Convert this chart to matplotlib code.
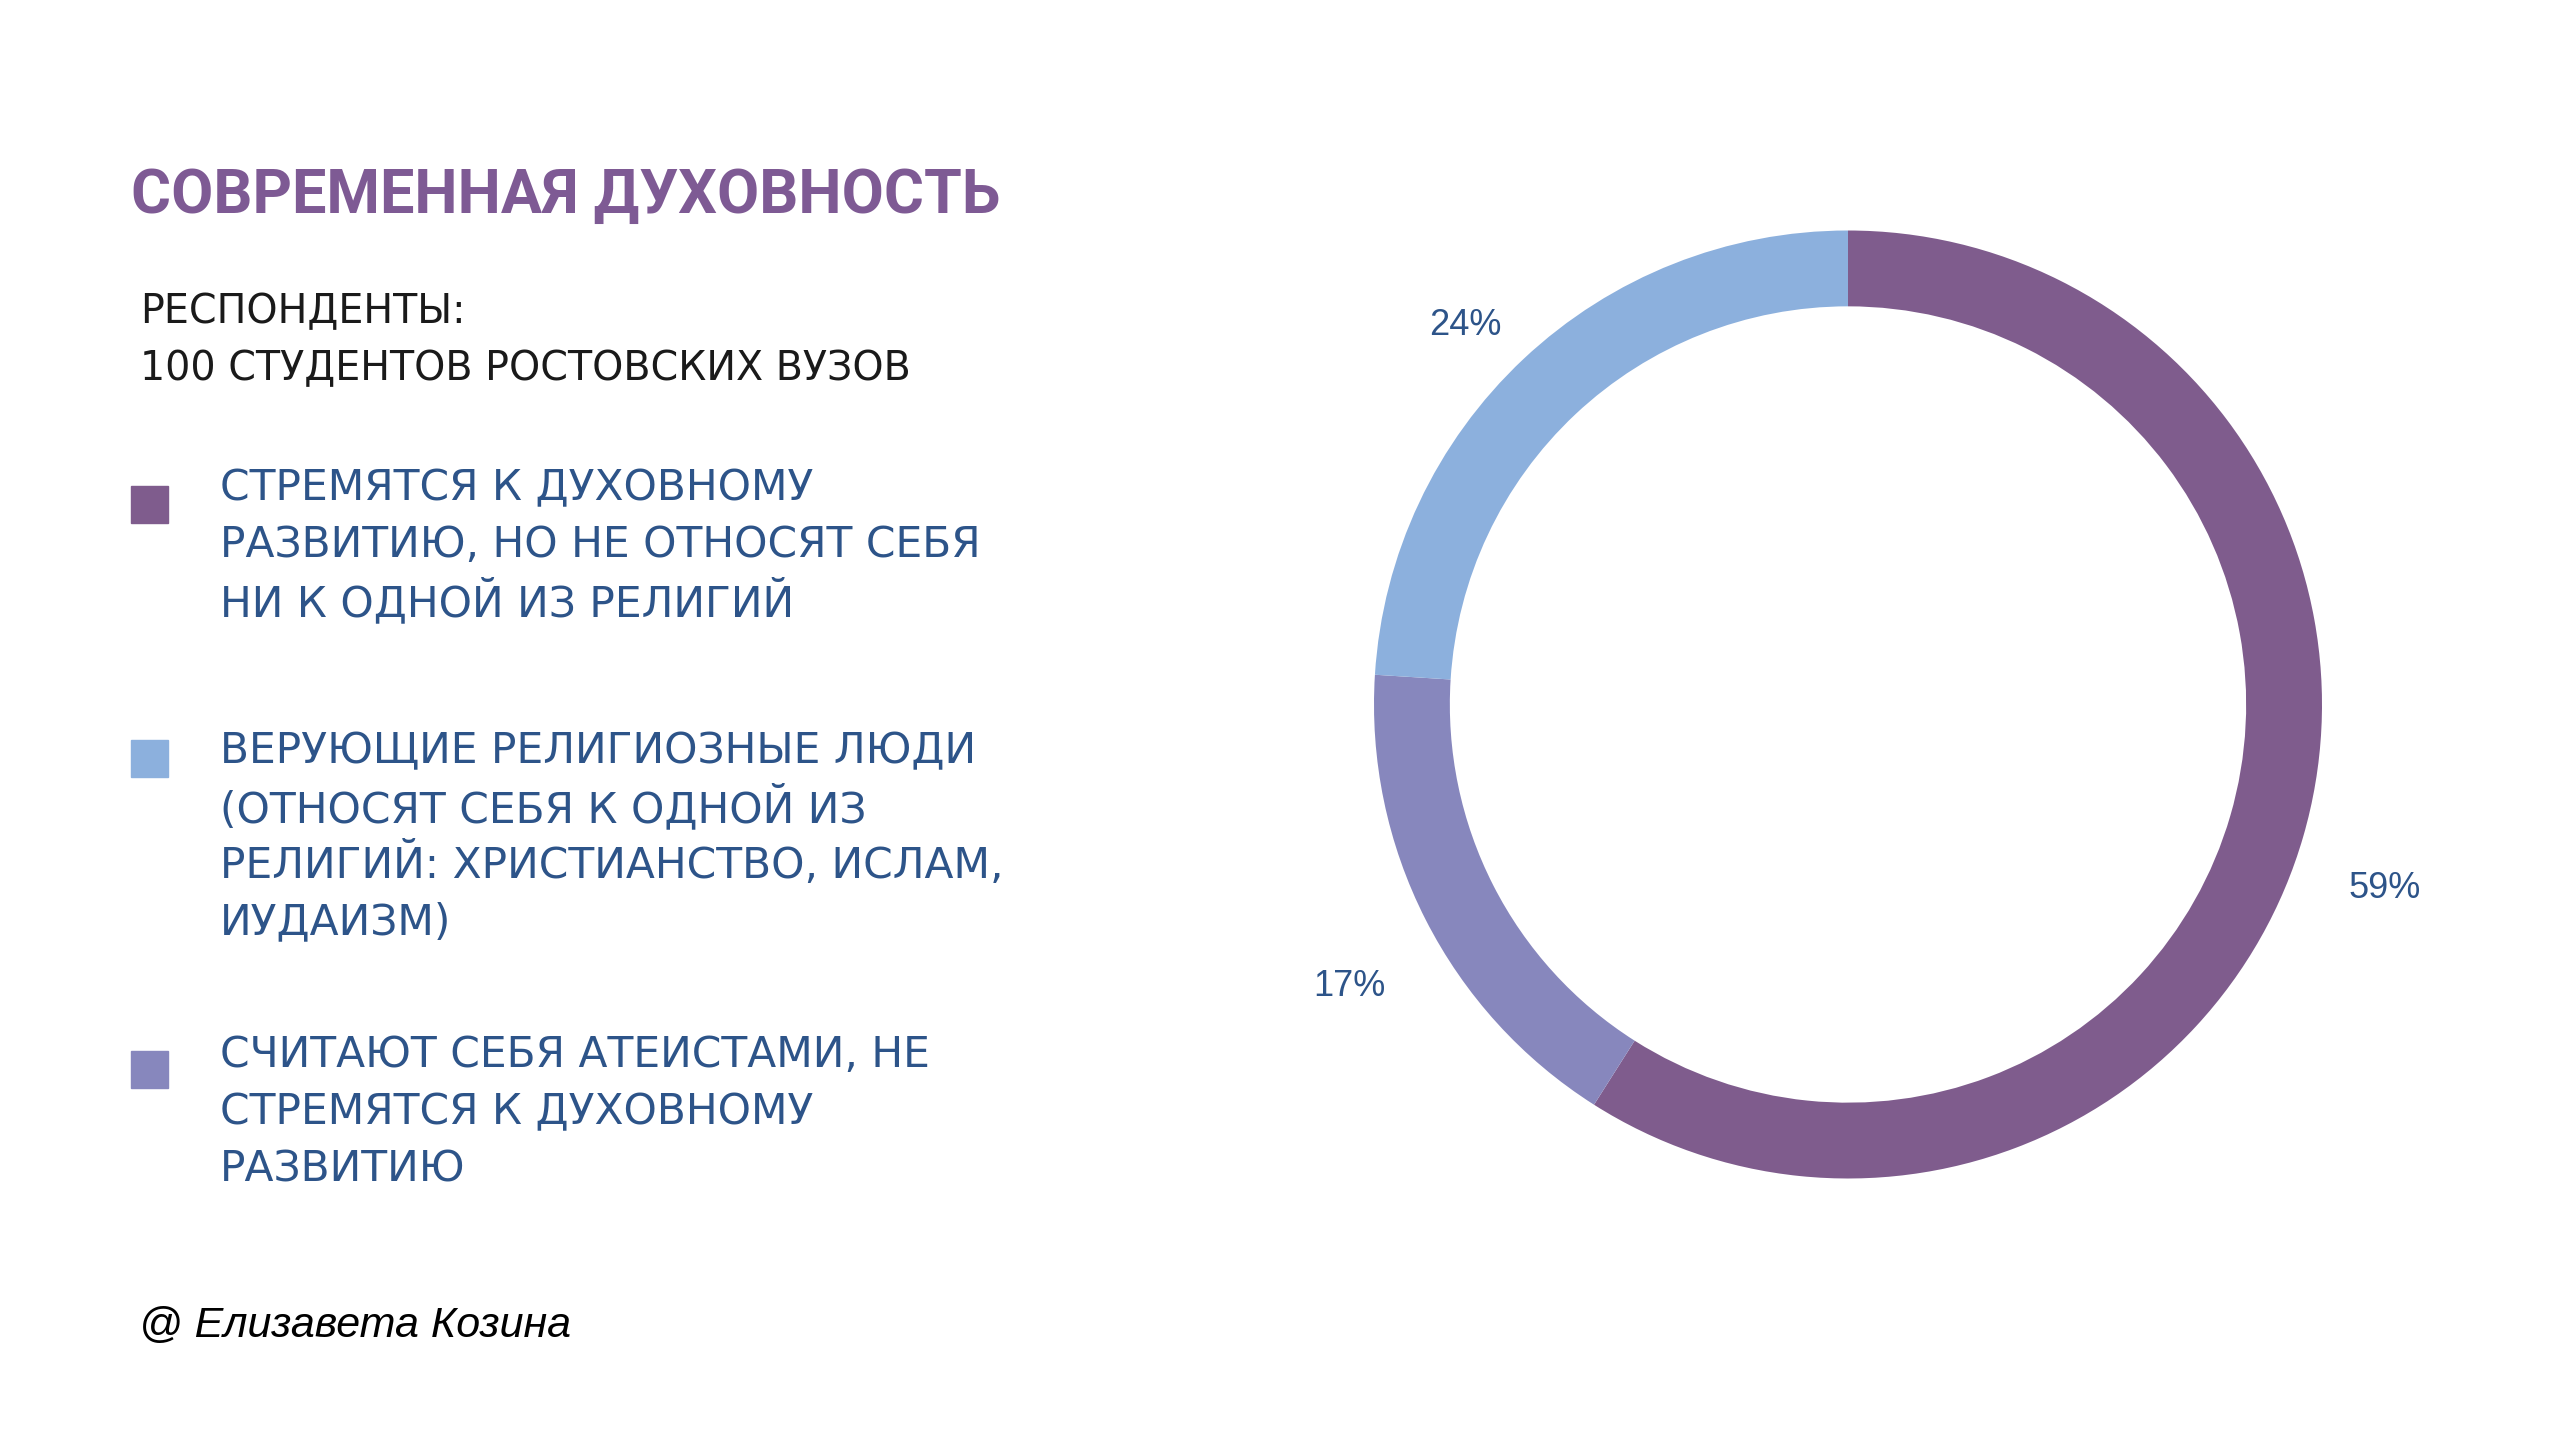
import matplotlib
matplotlib.use("Agg")
import matplotlib.pyplot as plt

# данные
shares = [59, 17, 24]
colors = ["#7f5c8d", "#8787bd", "#8cb0dd"]
legend_lines = [
    ["СТРЕМЯТСЯ К ДУХОВНОМУ", "РАЗВИТИЮ, НО НЕ ОТНОСЯТ СЕБЯ", "НИ К ОДНОЙ ИЗ РЕЛИГИЙ"],
    ["ВЕРУЮЩИЕ РЕЛИГИОЗНЫЕ ЛЮДИ", "(ОТНОСЯТ СЕБЯ К ОДНОЙ ИЗ",
     "РЕЛИГИЙ: ХРИСТИАНСТВО, ИСЛАМ,", "ИУДАИЗМ)"],
    ["СЧИТАЮТ СЕБЯ АТЕИСТАМИ, НЕ", "СТРЕМЯТСЯ К ДУХОВНОМУ", "РАЗВИТИЮ"],
]
legend_colors = ["#7f5c8d", "#8cb0dd", "#8787bd"]

W, H = 2560, 1433
fig = plt.figure(figsize=(W / 100, H / 100), dpi=100)
fig.patch.set_facecolor("white")


def px(x, y):
    return x / W, 1 - y / H


text_blue = "#2d5489"

# заголовок
fig.text(*px(131, 196), "СОВРЕМЕННАЯ ДУХОВНОСТЬ", fontsize=44, fontweight="bold",
         family="Roboto", color="#7e5a94", va="center", ha="left")
fig.text(*px(140, 312), "РЕСПОНДЕНТЫ:", fontsize=28.5, family="DejaVu Sans",
         color="#1a1a1a", va="center", ha="left")
fig.text(*px(140, 369), "100 СТУДЕНТОВ РОСТОВСКИХ ВУЗОВ", fontsize=28.5, family="DejaVu Sans",
         color="#1a1a1a", va="center", ha="left")

# легенда
starts = [488, 751, 1055]
squares = [504, 758, 1069]
for lines, col, y0, ys in zip(legend_lines, legend_colors, starts, squares):
    fig.patches.append(plt.Rectangle(px(131, ys + 19), 37 / W, 37 / H,
                                     transform=fig.transFigure, color=col))
    for i, line in enumerate(lines):
        fig.text(*px(220, y0 + i * 57), line, fontsize=30.5, family="DejaVu Sans",
                 color=text_blue, va="center", ha="left")

fig.text(*px(139, 1326), "@ Елизавета Козина", fontsize=31, style="italic",
         family="Liberation Sans", color="black", va="center", ha="left")

# кольцевая диаграмма
cx, cy, r = 1848, 704.5, 474
ax = fig.add_axes([(cx - r) / W, (H - cy - r) / H, 2 * r / W, 2 * r / H])
wedges, texts, autotexts = ax.pie(
    shares, colors=colors, startangle=90, counterclock=False, radius=1,
    wedgeprops=dict(width=0.16, linewidth=0),
    autopct=lambda p: "%d%%" % round(p), pctdistance=1.18,
    textprops=dict(fontsize=26, color=text_blue, family="Liberation Sans"))
for t in autotexts:
    x, y = t.get_position()
    t.set_position((x, y - 0.06))
ax.set_xlim(-1, 1)
ax.set_ylim(-1, 1)
ax.set_aspect("equal")
ax.axis("off")

fig.savefig("out.png", dpi=100, facecolor="white")
